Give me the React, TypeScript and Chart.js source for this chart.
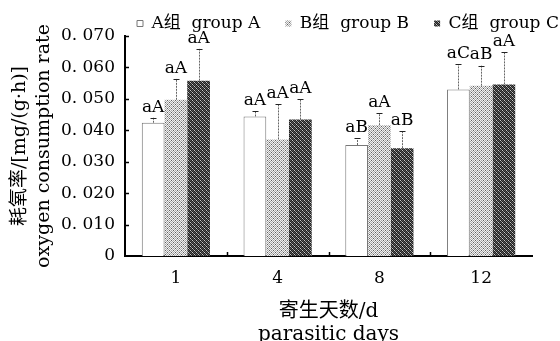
import React, { useEffect, useRef } from "react";
import { Chart, registerables } from "chart.js";

Chart.register(...registerables);

const categories = ["1", "4", "8", "12"];
const seriesNames = ["A组  group A", "B组  group B", "C组  group C"];
const groupA = [0.0424, 0.0444, 0.0353, 0.053];
const groupB = [0.0497, 0.0371, 0.0416, 0.0542];
const groupC = [0.0558, 0.0434, 0.0343, 0.0546];
const errA = [0.0016, 0.0018, 0.0021, 0.008];
const errB = [0.0067, 0.0113, 0.0038, 0.0064];
const errC = [0.0101, 0.0066, 0.0056, 0.0104];
const letterA = ["aA", "aA", "aB", "aC"];
const letterB = ["aA", "aA", "aA", "aB"];
const letterC = ["aA", "aA", "aB", "aA"];
const yTickLabels = ["0", "0. 010", "0. 020", "0. 030", "0. 040", "0. 050", "0. 060", "0. 070"];
const yTitle = ["耗氧率/[mg/(g·h)]", "oxygen consumption rate"];
const xTitle = ["寄生天数/d", "parasitic days"];

const FONT = "'DejaVu Serif', 'Noto Sans CJK SC', serif";

function makePattern(rows: string[], palette: Record<string, string>) {
  const c = document.createElement("canvas");
  const h = rows.length;
  const w = rows[0].length;
  c.width = w;
  c.height = h;
  const g = c.getContext("2d")!;
  for (let y = 0; y < h; y++) {
    for (let x = 0; x < w; x++) {
      g.fillStyle = palette[rows[y][x]];
      g.fillRect(x, y, 1, 1);
    }
  }
  const ctx = document.createElement("canvas").getContext("2d")!;
  return ctx.createPattern(c, "repeat")!;
}

export default function App() {
  const ref = useRef<HTMLCanvasElement | null>(null);

  useEffect(() => {
    const canvas = ref.current;
    if (!canvas) return;
    const patB = makePattern(
      ["wgwd", "gwgw", "wdwg", "gwgw"],
      { w: "#f2f2f2", g: "#a8a8a8", d: "#606060" }
    );
    const patC = makePattern(
      ["lkdk", "kmkd", "dklk", "kdkm"],
      { k: "#1e1e1e", d: "#555555", l: "#c8c8c8", m: "#909090" }
    );
    const errs = [errA, errB, errC];
    const letters = [letterA, letterB, letterC];

    const overlay = {
      id: "overlay",
      beforeDraw(chart: any) {
        const lg = chart.legend;
        if (lg) {
          lg.left = 112;
          lg.right = 620;
          lg.top = -10;
        }
      },
      afterDatasetsDraw(chart: any) {
        const ctx = chart.ctx;
        const ys = chart.scales.y;
        const xs = chart.scales.x;
        ctx.save();
        chart.data.datasets.forEach((ds: any, i: number) => {
          const meta = chart.getDatasetMeta(i);
          meta.data.forEach((bar: any, j: number) => {
            const v = ds.data[j];
            const top = ys.getPixelForValue(v + errs[i][j]);
            const x = Math.round(bar.x) + 0.5;
            ctx.strokeStyle = "#666";
            ctx.lineWidth = 1;
            ctx.setLineDash([2, 1]);
            ctx.beginPath();
            ctx.moveTo(x, bar.y);
            ctx.lineTo(x, top);
            ctx.stroke();
            ctx.setLineDash([]);
            ctx.strokeStyle = "#222";
            ctx.beginPath();
            ctx.moveTo(x - 3, Math.round(top) + 0.5);
            ctx.lineTo(x + 3, Math.round(top) + 0.5);
            ctx.stroke();
            ctx.fillStyle = "#000";
            ctx.font = `17px ${FONT}`;
            ctx.textAlign = "center";
            ctx.textBaseline = "bottom";
            ctx.fillText(letters[i][j], bar.x, top - 2);
          });
        });
        // inner tick marks
        ctx.strokeStyle = "#000";
        ctx.lineWidth = 1.5;
        ys.ticks.forEach((t: any) => {
          const py = Math.round(ys.getPixelForValue(t.value)) + 0.5;
          if (t.value === 0) return;
          ctx.beginPath();
          ctx.moveTo(xs.left, py);
          ctx.lineTo(xs.left + 4, py);
          ctx.stroke();
        });
        for (let k = 0; k < categories.length - 1; k++) {
          const px = Math.round((xs.getPixelForValue(k) + xs.getPixelForValue(k + 1)) / 2) + 0.5;
          ctx.beginPath();
          ctx.moveTo(px, ys.bottom);
          ctx.lineTo(px, ys.bottom - 4);
          ctx.stroke();
        }
        ctx.restore();
      },
    };

    const chart = new Chart(canvas, {
      type: "bar",
      data: {
        labels: categories,
        datasets: [
          { label: seriesNames[0], data: groupA, backgroundColor: "#ffffff", borderColor: "#777", borderWidth: 1 },
          { label: seriesNames[1], data: groupB, backgroundColor: patB, borderColor: "#999", borderWidth: 0 },
          { label: seriesNames[2], data: groupC, backgroundColor: patC, borderColor: "#333", borderWidth: 0 },
        ],
      },
      options: {
        responsive: false,
        animation: false,
        layout: { padding: { left: 0, right: 28, top: 0, bottom: 0 } },
        datasets: { bar: { categoryPercentage: 0.67, barPercentage: 1.0 } },
        plugins: {
          tooltip: { enabled: false },
          legend: {
            position: "top",
            align: "start",
            maxHeight: 36,
            labels: {
              color: "#000",
              boxWidth: 6,
              boxHeight: 6,
              padding: 25,
              font: { family: FONT, size: 17 },
            },
          },
        },
        scales: {
          x: {
            grid: { display: false },
            border: { display: true, color: "#000", width: 2 },
            ticks: { color: "#000", padding: 4, font: { family: FONT, size: 17 } },
            title: {
              display: true,
              text: xTitle,
              color: "#000",
              font: { family: FONT, size: 20, lineHeight: 1.15 },
              padding: { top: 0, bottom: -5.5 },
            },
            afterFit: (s: any) => {
              s.height = 85;
            },
          },
          y: {
            min: 0,
            max: 0.07,
            grid: { display: false },
            border: { display: true, color: "#000", width: 2 },
            ticks: {
              stepSize: 0.01,
              color: "#000",
              padding: 2,
              font: { family: FONT, size: 17 },
              callback: (_v: any, i: number) => yTickLabels[i],
            },
            title: {
              display: true,
              text: yTitle,
              color: "#000",
              font: { family: FONT, size: 19, lineHeight: 1.25 },
              padding: { top: 8, bottom: 0 },
            },
            afterFit: (s: any) => {
              s.width = 125;
            },
          },
        },
      },
      plugins: [overlay],
    });
    return () => chart.destroy();
  }, []);

  return (
    <div style={{ position: "fixed", left: 0, top: 0, width: 560, height: 341, background: "#fff" }}>
      <canvas ref={ref} width={560} height={341} style={{ display: "block" }} />
    </div>
  );
}
